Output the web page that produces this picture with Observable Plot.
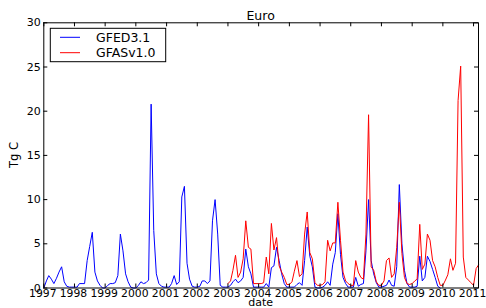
<!DOCTYPE html>
<html><head><meta charset="utf-8">
<script src="https://cdn.jsdelivr.net/npm/d3@7"></script>
<script src="https://cdn.jsdelivr.net/npm/@observablehq/plot@0.6"></script>
<style>
body{margin:0;background:#fff}
#chart svg{font-family:"DejaVu Sans",sans-serif;display:block}
</style>
</head><body><div id="chart"></div>
<script>
const title = "Euro";
const yLabel = "Tg C";
const xLabel = "date";
const seriesNames = ["GFED3.1", "GFASv1.0"];
const seriesColors = ["#0000ff", "#ff0000"];
const yTicks = [0, 5, 10, 15, 20, 25, 30];
const xTickYears = [1997,1998,1999,2000,2001,2002,2003,2004,2005,2006,2007,2008,2009,2010,2011];

// monthly values, GFED3.1 from 1997-01
const gfedStart = [1997, 0];
const gfed = [
  0.0,0.8,1.4,1.0,0.5,1.1,1.8,2.4,0.7,0.2,0.1,0.1,
  0.1,0.1,0.5,0.5,0.5,3.1,4.7,6.3,1.8,0.8,0.3,0.0,
  0.0,0.3,0.5,0.5,0.6,1.4,6.1,4.2,1.6,0.7,0.1,0.0,
  0.0,0.3,0.7,0.5,0.6,0.9,20.8,6.5,1.6,0.5,0.2,0.1,
  0.1,0.1,0.5,1.4,0.4,0.7,10.3,11.5,2.8,1.0,0.2,0.1,
  0.1,0.2,0.8,0.8,0.5,0.8,7.6,10.0,6.1,0.3,0.1,0.1,
  0.1,0.3,0.7,1.0,0.6,0.8,1.2,4.4,2.4,1.6,0.1,0.1,
  0.1,0.1,0.1,0.5,0.1,2.3,2.5,4.6,3.1,1.6,0.5,0.1,
  0.1,0.1,0.1,0.4,0.6,0.3,3.1,6.9,3.6,2.4,0.1,0.0,
  0.0,0.1,0.3,0.7,0.3,2.7,4.0,8.4,3.8,1.2,0.5,0.1,
  0.1,0.1,1.2,0.2,0.4,0.5,4.2,10.0,3.1,1.6,0.6,0.1,
  0.1,0.2,0.3,0.9,0.3,0.2,2.4,11.7,5.0,2.0,0.5,0.1,
  0.1,0.1,0.2,3.6,0.8,1.2,3.6,3.0,2.1,1.2,0.2,0.0
];
// monthly values, GFASv1.0 from 2003-01
const gfasStart = [2003, 0];
const gfas = [
  0.5,0.8,2.0,3.7,1.2,1.8,3.3,7.6,4.6,4.4,0.5,0.5,
  0.5,0.5,0.6,3.5,1.6,7.3,4.3,5.7,2.5,1.8,1.2,0.4,
  0.4,0.7,1.9,3.1,1.3,1.6,6.1,8.6,4.0,3.3,0.6,0.3,
  0.3,0.4,0.7,5.4,4.2,5.1,5.1,9.7,5.4,1.8,0.8,0.5,
  0.3,0.3,3.1,1.8,1.2,1.0,6.1,19.6,2.4,2.0,0.7,0.3,
  0.3,0.8,3.1,3.4,1.2,1.6,4.6,9.7,3.9,1.2,0.5,0.4,
  0.5,0.8,1.0,7.2,2.1,2.7,6.1,5.4,3.1,2.4,1.2,0.3,
  0.3,0.9,1.5,3.3,2.0,2.8,21.2,25.1,3.5,1.2,0.9,0.6,
  0.3,2.2,2.6
];

const toRows = (start, vals) => vals.map((v, i) => ({date: new Date(Date.UTC(start[0], start[1] + i, 1)), value: v}));
const rowsGfed = toRows(gfedStart, gfed);
const rowsGfas = toRows(gfasStart, gfas);

const W = 486, H = 308, mL = 43.3, mR = 8, mT = 22.3, mB = 20.5;
const innerW = W - mL - mR, innerH = H - mT - mB;
const tickLen = 4;
const xt = xTickYears.map(y => new Date(Date.UTC(y, 0, 1)));

const chart = Plot.plot({
  width: W, height: H,
  marginLeft: mL, marginRight: mR, marginTop: mT, marginBottom: mB,
  style: {fontFamily: "DejaVu Sans, sans-serif", fontSize: "11px", background: "white", color: "black"},
  x: {type: "utc", domain: [rowsGfed[0].date, rowsGfas[rowsGfas.length - 1].date]},
  y: {domain: [yTicks[0], yTicks[yTicks.length - 1]]},
  marks: [
    Plot.line(rowsGfed, {x: "date", y: "value", stroke: seriesColors[0], strokeWidth: 1}),
    Plot.line(rowsGfas, {x: "date", y: "value", stroke: seriesColors[1], strokeWidth: 1}),
    Plot.ruleX(xt, {insetTop: innerH - tickLen, stroke: "black"}),
    Plot.ruleX(xt, {insetBottom: innerH - tickLen, stroke: "black"}),
    Plot.ruleY(yTicks, {insetRight: innerW - tickLen, stroke: "black"}),
    Plot.ruleY(yTicks, {insetLeft: innerW - tickLen, stroke: "black"}),
    Plot.frame({stroke: "black"}),
    Plot.axisX(xt, {tickSize: 0, tickPadding: 1.5, dx: -1, tickFormat: d => String(d.getUTCFullYear()), fontSize: 10.8, label: null}),
    Plot.axisY(yTicks, {tickSize: 0, tickPadding: 3, fontSize: 11, label: null})
  ]
});
document.getElementById("chart").appendChild(chart);

const svg = d3.select(chart);
svg.append("text").attr("x", mL + innerW / 2).attr("y", 20).attr("text-anchor", "middle")
  .attr("font-size", 12.5).attr("fill", "black").text(title);
svg.append("text").attr("x", mL + innerW / 2).attr("y", 305.5).attr("text-anchor", "middle")
  .attr("font-size", 11).attr("fill", "black").text(xLabel);
svg.append("text").attr("transform", `translate(18,${mT + innerH / 2}) rotate(-90)`).attr("text-anchor", "middle")
  .attr("font-size", 11.5).attr("fill", "black").text(yLabel);

const lg = svg.append("g");
lg.append("rect").attr("x", 50.3).attr("y", 28.3).attr("width", 115.4).attr("height", 33.4)
  .attr("fill", "white").attr("stroke", "black").attr("stroke-width", 1);
seriesNames.forEach((name, i) => {
  const yy = 37.3 + i * 15.4;
  lg.append("line").attr("x1", 60).attr("x2", 80).attr("y1", yy).attr("y2", yy)
    .attr("stroke", seriesColors[i]).attr("stroke-width", 1);
  lg.append("text").attr("x", 96).attr("y", yy + 4.4).attr("text-anchor", "start")
    .attr("font-size", 12.5).attr("fill", "black").text(name);
});
</script>
</body></html>
